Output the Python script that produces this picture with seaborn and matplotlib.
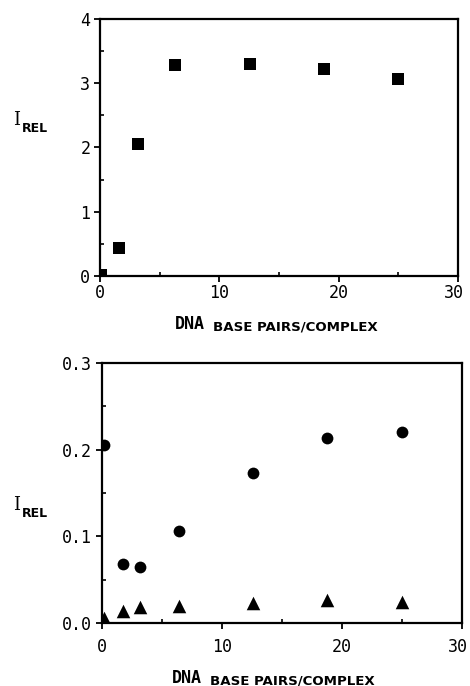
import matplotlib
matplotlib.use("Agg")
import matplotlib.pyplot as plt
import matplotlib.transforms as mtransforms
from matplotlib.ticker import MultipleLocator
import pandas as pd
import seaborn as sns

# DNA base pairs per complex
bp_top = [0.1, 1.6, 3.15, 6.3, 12.6, 18.8, 25.0]
irel_top = [0.02, 0.44, 2.06, 3.29, 3.30, 3.22, 3.07]

bp_bottom = [0.15, 1.75, 3.2, 6.4, 12.6, 18.75, 25.0]
irel_circles = [0.205, 0.068, 0.065, 0.106, 0.173, 0.213, 0.220]
irel_triangles = [0.006, 0.014, 0.018, 0.020, 0.023, 0.026, 0.024]

XLABEL_BIG = "DNA"
XLABEL_SMALL = "BASE PAIRS/COMPLEX"

sns.set_style("ticks")
plt.rcParams["font.family"] = ["DejaVu Sans Mono", "DejaVu Sans"]
plt.rcParams.update({"text.color": "black", "xtick.color": "black",
                     "ytick.color": "black", "axes.labelcolor": "black"})


def style_axes(ax, ymax, ymajor, yminor, yfmt, xpad):
    ax.set_xlim(0, 30)
    ax.set_ylim(0, ymax)
    ax.xaxis.set_major_locator(MultipleLocator(10))
    ax.xaxis.set_minor_locator(MultipleLocator(5))
    ax.yaxis.set_major_locator(MultipleLocator(ymajor))
    ax.yaxis.set_minor_locator(MultipleLocator(yminor))
    ax.yaxis.set_major_formatter(yfmt)
    ax.tick_params(which="major", direction="out", length=4, width=1.3,
                   labelsize=12, pad=3, colors="black")
    ax.tick_params(axis="x", which="major", pad=xpad)
    ax.tick_params(which="minor", direction="in", length=3, width=1.2,
                   colors="black")
    for s in ax.spines.values():
        s.set_linewidth(1.6)
        s.set_color("black")
    ax.set_xlabel("")
    ax.set_ylabel("")


def nudge_xlabel(fig, ax, loc, dx):
    # the label at the right edge sits a little left of its tick, as in the original
    fig.canvas.draw()
    for tick in ax.xaxis.get_major_ticks():
        if abs(tick.get_loc() - loc) < 1e-9:
            lab = tick.label1
            lab.set_transform(lab.get_transform()
                              + mtransforms.Affine2D().translate(dx, 0))


def add_xlabel(fig, x, y):
    big = fig.text(x, y, XLABEL_BIG, fontsize=12, fontweight="bold",
                   family="DejaVu Sans Mono", va="baseline", color="black")
    plt.annotate(XLABEL_SMALL, xy=(1, 0), xycoords=big, xytext=(6, 0),
                 textcoords="offset points", fontsize=9.6, fontweight="bold",
                 family="DejaVu Sans", va="bottom", color="black")


def add_ylabel(fig, x, y):
    i = fig.text(x, y, "I", fontsize=13, family="DejaVu Serif",
                 va="baseline", color="black")
    plt.annotate("REL", xy=(1, 0), xycoords=i, xytext=(1.5, -4),
                 textcoords="offset points", fontsize=9, fontweight="bold",
                 family="DejaVu Sans", va="bottom", color="black")


fig = plt.figure(figsize=(4.70, 6.86), dpi=100)
ax1 = fig.add_axes([0.2128, 0.5977, 0.7617, 0.3746])
ax2 = fig.add_axes([0.2170, 0.0918, 0.7660, 0.3790])

top = pd.DataFrame({"bp": bp_top, "irel": irel_top})
sns.scatterplot(data=top, x="bp", y="irel", marker="s", s=78, color="black",
                edgecolor="black", linewidth=0, ax=ax1, zorder=3)
style_axes(ax1, 4, 1, 0.5, "{x:.0f}", xpad=2)

bot = pd.DataFrame({"bp": bp_bottom, "circles": irel_circles,
                    "triangles": irel_triangles})
sns.scatterplot(data=bot, x="bp", y="circles", marker="o", s=72, color="black",
                edgecolor="black", linewidth=0, ax=ax2, zorder=3)
sns.scatterplot(data=bot, x="bp", y="triangles", marker="^", s=95, color="black",
                edgecolor="black", linewidth=0, ax=ax2, zorder=3)
style_axes(ax2, 0.3, 0.1, 0.05, "{x:.1f}", xpad=7)

nudge_xlabel(fig, ax1, 30, -4)
nudge_xlabel(fig, ax2, 30, -4)

add_xlabel(fig, 175 / 470, 1 - 329 / 686)
add_xlabel(fig, 172 / 470, 1 - 683 / 686)
add_ylabel(fig, 13 / 470, 1 - 125 / 686)
add_ylabel(fig, 13 / 470, 1 - 510 / 686)

fig.savefig("out.png", dpi=100)
